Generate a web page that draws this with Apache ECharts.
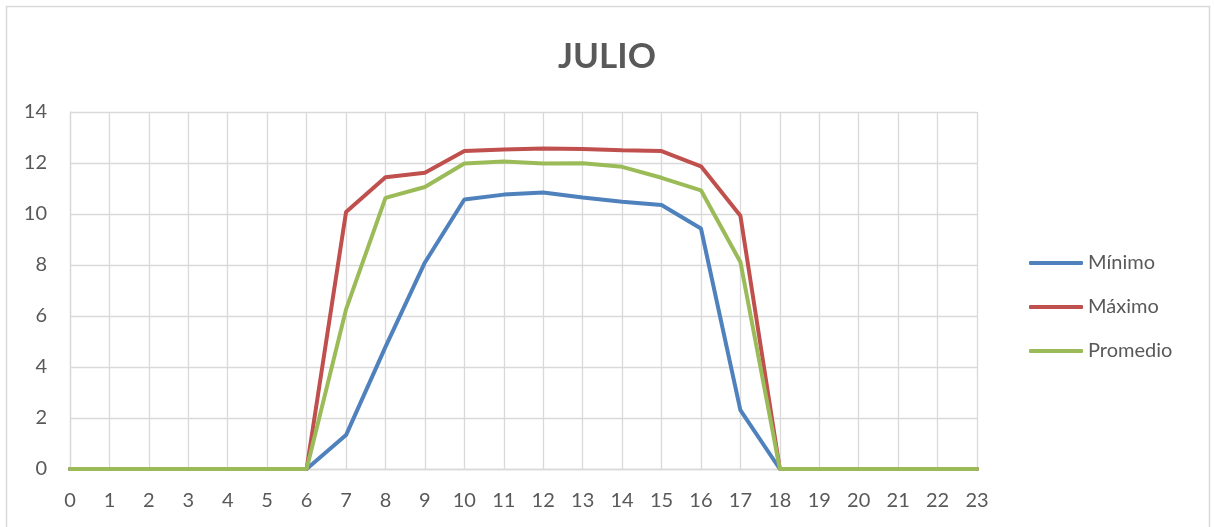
<!DOCTYPE html>
<html>
<head>
<meta charset="utf-8">
<script src="https://cdn.jsdelivr.net/npm/echarts@6/dist/echarts.min.js"></script>
<style>html,body{margin:0;padding:0;background:#fff}#c{width:1214px;height:527px}</style>
</head>
<body>
<div id="c"></div>
<script>
const hours = ['0','1','2','3','4','5','6','7','8','9','10','11','12','13','14','15','16','17','18','19','20','21','22','23'];
const minimo = [0,0,0,0,0,0,0,1.33,4.79,8.10,10.57,10.76,10.84,10.65,10.48,10.35,9.43,2.31,0,0,0,0,0,0];
const maximo = [0,0,0,0,0,0,0,10.08,11.44,11.62,12.47,12.53,12.57,12.55,12.50,12.47,11.87,9.93,0,0,0,0,0,0];
const promedio = [0,0,0,0,0,0,0,6.26,10.63,11.06,11.98,12.06,11.98,11.99,11.85,11.42,10.93,8.12,0,0,0,0,0,0];
const seriesNames = ['Mínimo','Máximo','Promedio'];
const colors = ['#4F81BD','#C0504D','#9BBB59'];

const chart = echarts.init(document.getElementById('c'), null, {renderer:'canvas'});
const font = 'Lato, "Open Sans", sans-serif';
chart.setOption({
  animation:false,
  backgroundColor:'#fff',
  graphic:[{type:'rect',shape:{x:6.5,y:6.5,width:1203,height:540},style:{fill:'none',stroke:'#d9d9d9',lineWidth:1.5},silent:true,z:-1}],
  title:{text:'JULIO',left:'center',top:34,textStyle:{fontFamily:font,fontSize:35,fontWeight:'bold',color:'#595959'}},
  grid:{left:70,right:237,top:112,bottom:58,containLabel:false},
  legend:{orient:'vertical',left:1024,top:248,itemWidth:54,itemHeight:4,itemGap:24,icon:'roundRect',
    textStyle:{fontFamily:font,fontSize:20,color:'#595959',lineHeight:20,padding:[0,0,0,0]},
    data:seriesNames},
  xAxis:{type:'category',data:hours,boundaryGap:false,
    axisLine:{lineStyle:{color:'#d9d9d9',width:1.3}},axisTick:{show:false},
    axisLabel:{fontFamily:font,fontSize:20,color:'#595959',margin:22},
    splitLine:{show:true,lineStyle:{color:'#d9d9d9',width:1.3}}},
  yAxis:{type:'value',min:0,max:14,interval:2,
    axisLine:{show:true,lineStyle:{color:'#d9d9d9',width:1.3}},axisTick:{show:false},
    axisLabel:{fontFamily:font,fontSize:20,color:'#595959',margin:23},
    splitLine:{lineStyle:{color:'#d9d9d9',width:1.3}}},
  series:[
    {name:seriesNames[0],type:'line',data:minimo,symbol:'none',lineStyle:{width:4,color:colors[0],cap:'round'},itemStyle:{color:colors[0]}},
    {name:seriesNames[1],type:'line',data:maximo,symbol:'none',lineStyle:{width:4,color:colors[1],cap:'round'},itemStyle:{color:colors[1]}},
    {name:seriesNames[2],type:'line',data:promedio,symbol:'none',lineStyle:{width:4,color:colors[2],cap:'round'},itemStyle:{color:colors[2]}}
  ]
});
</script>
</body>
</html>
